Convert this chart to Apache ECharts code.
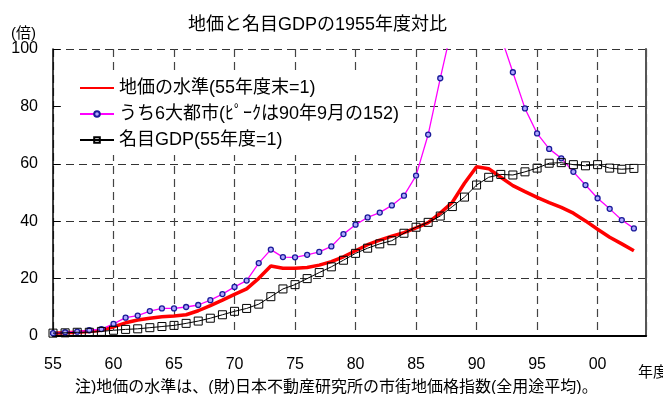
<!DOCTYPE html>
<html>
<head>
<meta charset="utf-8">
<script src="https://cdn.jsdelivr.net/npm/echarts@6/dist/echarts.min.js"></script>
<style>
  html, body { margin: 0; padding: 0; background: #fff; }
  #chart { width: 663px; height: 394px; }
</style>
</head>
<body>
<div id="chart"></div>
<script>
// fiscal years 1955 - 2003
const years = [];
for (let y = 1955; y <= 2003; y++) years.push(y);

// 地価の水準 (55年度末=1)
const landPrice = [
    1.0, 1.1, 1.3, 1.6, 2.0, 3.2, 4.6, 5.6, 6.2, 6.7,
    7.0, 7.4, 8.8, 10.6, 12.5, 14.5, 16.4, 20.1, 24.4, 23.6,
    23.6, 23.9, 24.7, 25.9, 27.6, 29.7, 31.8, 33.4, 34.8, 36.0,
    37.7, 39.5, 42.8, 46.6, 53.2, 59.0, 58.3, 55.3, 52.4, 50.3,
    48.3, 46.5, 44.8, 42.8, 40.1, 37.2, 34.4, 32.1, 29.7
];

// うち6大都市 (ピークは90年9月の152)
const sixCities = [
    1.0, 1.3, 1.5, 2.0, 2.4, 4.2, 6.4, 7.1, 8.7, 9.6,
    9.6, 10.1, 10.8, 12.5, 14.6, 17.1, 19.3, 25.4, 30.1, 27.5,
    27.4, 28.3, 29.3, 31.2, 35.5, 38.8, 41.3, 43.0, 45.5, 48.9,
    55.9, 70.2, 89.8, 108.3, 140.0, 150.0, 130.0, 104.5, 91.9, 79.3,
    70.6, 65.2, 61.9, 57.2, 52.6, 48.0, 44.3, 40.4, 37.5
];

// 名目GDP (55年度=1)
const nominalGdp = [
    1.0, 1.1, 1.3, 1.3, 1.6, 2.0, 2.3, 2.5, 2.9, 3.3,
    3.7, 4.4, 5.2, 6.2, 7.4, 8.6, 9.6, 11.1, 13.7, 16.4,
    17.9, 20.0, 22.1, 24.1, 26.4, 28.8, 30.6, 32.1, 33.2, 35.8,
    37.9, 39.6, 41.8, 45.1, 48.4, 52.6, 55.3, 56.3, 56.1, 57.2,
    58.5, 60.2, 60.4, 59.7, 59.3, 59.7, 58.5, 58.1, 58.4
];

const seriesNames = [
    '地価の水準(55年度末=1)',
    'うち6大都市(ﾋﾟｰｸは90年9月の152)',
    '名目GDP(55年度=1)'
];

const pair = arr => years.map((y, i) => [y, arr[i]]);

const FONT = '"Liberation Sans", "Noto Sans CJK JP", sans-serif';

const chart = echarts.init(document.getElementById('chart'));

const option = {
    animation: false,
    textStyle: { fontFamily: FONT, color: '#000' },
    title: [
        {
            text: '地価と名目GDPの1955年度対比',
            left: 183,
            top: 11,
            textStyle: { fontSize: 18, fontWeight: 'normal', color: '#000', fontFamily: FONT }
        },
        {
            text: '(倍)',
            left: 6,
            top: 21,
            textStyle: { fontSize: 15, fontWeight: 'normal', color: '#000', fontFamily: FONT }
        },
        {
            text: '年度',
            left: 633,
            top: 360,
            textStyle: { fontSize: 15, fontWeight: 'normal', color: '#000', fontFamily: FONT }
        },
        {
            text: '注)地価の水準は、(財)日本不動産研究所の市街地価格指数(全用途平均)。',
            left: 70,
            top: 375,
            textStyle: { fontSize: 16, fontWeight: 'normal', color: '#000', fontFamily: FONT }
        }
    ],
    // white box behind the legend hides the grid lines, as in the original
    legend: {
        orient: 'vertical',
        left: 61,
        top: 72,
        padding: [7, 5, 6, 18],
        backgroundColor: '#fff',
        itemWidth: 34,
        itemHeight: 7,
        itemGap: 8,
        textStyle: { fontSize: 18, lineHeight: 18, color: '#000', fontFamily: FONT },
        data: [
            { name: seriesNames[0], itemStyle: { opacity: 0 } },
            { name: seriesNames[1] },
            { name: seriesNames[2] }
        ]
    },
    grid: { left: 53, right: 17, top: 49, bottom: 58 },
    xAxis: {
        type: 'value',
        min: 1955,
        max: 2004,
        interval: 5,
        axisLine: { show: true, onZero: false, lineStyle: { color: '#000', width: 2 } },
        axisTick: { show: false },
        axisLabel: {
            fontSize: 16,
            color: '#000',
            margin: 21,
            showMaxLabel: false,
            formatter: v => (v % 5 === 0 ? String(v % 100).padStart(2, '0') : '')
        },
        splitLine: { show: true, lineStyle: { color: '#444', type: [8, 5], width: 1.2 } }
    },
    yAxis: [
        {
            type: 'value',
            min: 0,
            max: 100,
            interval: 20,
            axisLine: { show: true, lineStyle: { color: '#000', width: 1.5 } },
            axisTick: { show: true, inside: true, length: 7, lineStyle: { color: '#000' } },
            axisLabel: { fontSize: 16, color: '#000', margin: 15 },
            splitLine: { show: true, lineStyle: { color: '#333', type: [8, 5], width: 1.2 } }
        },
        {
            type: 'value',
            position: 'right',
            min: 0,
            max: 100,
            interval: 20,
            axisLine: { show: true, lineStyle: { color: '#555', width: 2 } },
            axisTick: { show: false },
            axisLabel: { show: false },
            splitLine: { show: false }
        }
    ],
    series: [
        {
            name: seriesNames[0],
            type: 'line',
            data: pair(landPrice),
            symbol: 'none',
            lineStyle: { color: '#ff0000', width: 3.5 },
            itemStyle: { color: '#ff0000' },
            z: 3
        },
        {
            name: seriesNames[1],
            type: 'line',
            data: pair(sixCities),
            symbol: 'circle',
            symbolSize: 5,
            lineStyle: { color: '#ff00ff', width: 1.3 },
            itemStyle: { color: '#b0a8ff', borderColor: '#1a1a9a', borderWidth: 1.3 },
            z: 4
        },
        {
            name: seriesNames[2],
            type: 'line',
            data: pair(nominalGdp),
            symbol: 'rect',
            symbolSize: 8,
            lineStyle: { color: '#000', width: 1 },
            itemStyle: { color: 'rgba(255,255,255,0)', borderColor: '#000', borderWidth: 1 },
            z: 5
        }
    ]
};

chart.setOption(option);
</script>
</body>
</html>
